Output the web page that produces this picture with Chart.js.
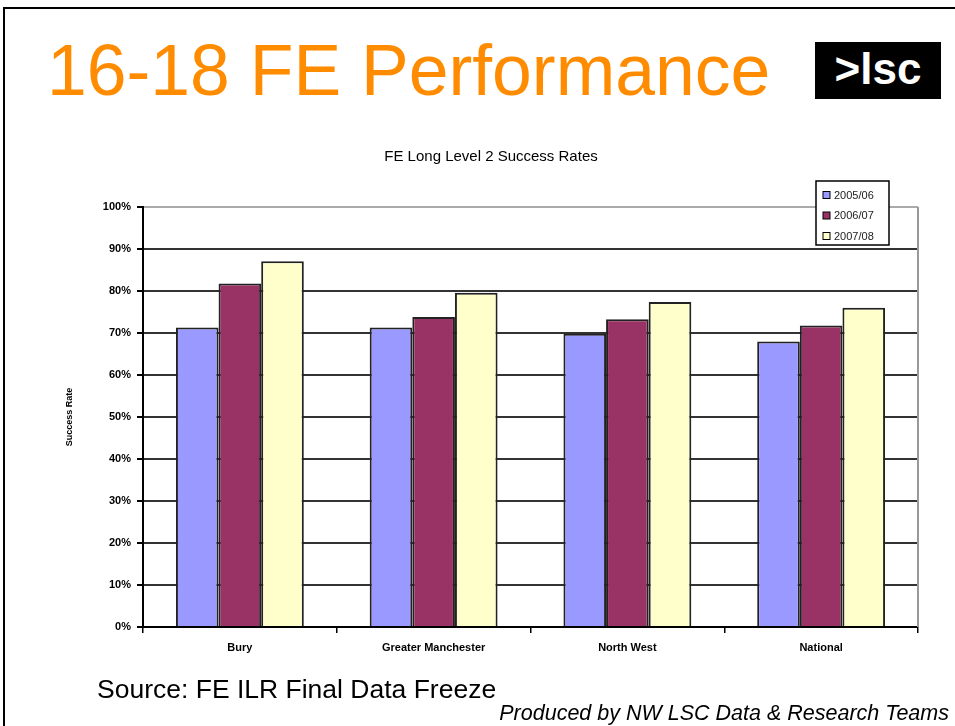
<!DOCTYPE html>
<html lang="en">
<head>
  <meta charset="UTF-8">
  <title>16-18 FE Performance</title>
  <script src="https://cdn.jsdelivr.net/npm/chart.js"></script>
  <style>
    body { margin: 0; background: #fff; font-family: Arial, "Liberation Sans", sans-serif; }
    .page { position: relative; width: 955px; height: 726px; overflow: hidden; }
    .frame { position: absolute; left: 3px; top: 7px; width: 960px; height: 730px;
             border-top: 2px solid #000; border-left: 2px solid #000; }
    .heading { position: absolute; left: 47px; top: 29px; font-size: 71.5px; color: #ff8c00;
               line-height: 82px; white-space: nowrap; }
    .logo { position: absolute; left: 815px; top: 42px; width: 126px; height: 57px; background: #000;
            color: #fff; font-size: 44px; font-weight: bold; text-align: center; line-height: 54px; }
    .source { position: absolute; left: 97px; top: 674px; font-size: 26.5px; color: #000; white-space: nowrap; }
    .produced { position: absolute; right: 6px; top: 701px; font-size: 21.5px; font-style: italic;
                color: #000; white-space: nowrap; }
    canvas { position: absolute; left: 0; top: 0; }
  </style>
</head>
<body>
  <div class="page">
    <div class="frame"></div>
    <div class="heading">16-18 FE Performance</div>
    <div class="logo">&gt;lsc</div>
    <canvas id="feChart" width="955" height="726"></canvas>
    <div class="source">Source: FE ILR Final Data Freeze</div>
    <div class="produced">Produced by NW LSC Data &amp; Research Teams</div>
  </div>

<script>
  // values (percent)
  const categories = ['Bury', 'Greater Manchester', 'North West', 'National'];
  const seriesNames = ['2005/06', '2006/07', '2007/08'];
  const rates0506 = [71.3, 71.3, 69.8, 68.0];
  const rates0607 = [81.8, 73.8, 73.3, 71.8];
  const rates0708 = [87.1, 79.6, 77.4, 76.0];
  const barColors = ['#9999ff', '#993366', '#ffffcc'];

  // small boxed legend + grey plot border, like the excel chart
  const boxLegend = {
    id: 'boxLegend',
    afterDraw(chart) {
      const ctx = chart.ctx;
      const a = chart.chartArea;
      ctx.save();
      ctx.strokeStyle = '#999';
      ctx.lineWidth = 2;
      ctx.beginPath();
      ctx.moveTo(a.right, a.top);
      ctx.lineTo(a.right, a.bottom);
      ctx.stroke();

      const x = 816, y = 181, w = 73, h = 64;
      ctx.fillStyle = '#fff';
      ctx.fillRect(x, y, w, h);
      ctx.strokeStyle = '#000';
      ctx.lineWidth = 1.5;
      ctx.strokeRect(x, y, w, h);
      ctx.font = '11px Arial, "Liberation Sans", sans-serif';
      ctx.textBaseline = 'middle';
      chart.data.datasets.forEach(function (ds, i) {
        const cy = y + 14 + i * 20.5;
        ctx.fillStyle = ds.backgroundColor;
        ctx.fillRect(x + 7, cy - 3.5, 7, 7);
        ctx.lineWidth = 1;
        ctx.strokeStyle = '#000';
        ctx.strokeRect(x + 7, cy - 3.5, 7, 7);
        ctx.fillStyle = '#222';
        ctx.fillText(ds.label, x + 18, cy + 0.5);
      });
      ctx.restore();
    }
  };

  const dataSets = [rates0506, rates0607, rates0708].map(function (vals, i) {
    return {
      label: seriesNames[i],
      data: vals,
      backgroundColor: barColors[i],
      borderColor: '#222',
      borderWidth: 2,
      categoryPercentage: 0.66,
      barPercentage: 1.0
    };
  });

  new Chart(document.getElementById('feChart'), {
    type: 'bar',
    data: { labels: categories, datasets: dataSets },
    plugins: [boxLegend],
    options: {
      responsive: false,
      animation: false,
      layout: { padding: { left: 64, right: 37, top: 0, bottom: 0 } },
      plugins: {
        legend: { display: false },
        tooltip: { enabled: false },
        title: {
          display: true,
          text: 'FE Long Level 2 Success Rates',
          color: '#000',
          font: { family: 'Arial, "Liberation Sans", sans-serif', size: 15, weight: 'normal', lineHeight: 1.2 },
          padding: { top: 148, bottom: 41 }
        }
      },
      scales: {
        x: {
          afterFit: function (s) { s.height = 99; },
          grid: { display: true, drawOnChartArea: false, drawTicks: true, tickLength: 6, color: '#000', lineWidth: 1.5 },
          border: { display: true, color: '#000', width: 2 },
          ticks: {
            color: '#000',
            padding: 8,
            font: { family: 'Arial, "Liberation Sans", sans-serif', size: 11, weight: 'bold' }
          }
        },
        y: {
          min: 0,
          max: 100,
          afterFit: function (s) { s.width = 143 - 64; },
          title: {
            display: true,
            text: 'Success Rate',
            color: '#000',
            padding: { top: 0, bottom: 0 },
            font: { family: 'Arial, "Liberation Sans", sans-serif', size: 9, weight: 'bold' }
          },
          grid: {
            drawTicks: true,
            tickLength: 6,
            lineWidth: 2,
            color: function (c) { return c.tick && c.tick.value === 100 ? '#aaa' : '#333'; },
            tickColor: '#000'
          },
          border: { display: true, color: '#000', width: 2 },
          ticks: {
            stepSize: 10,
            padding: 6,
            color: '#000',
            font: { family: 'Arial, "Liberation Sans", sans-serif', size: 11, weight: 'bold' },
            callback: function (v) { return v + '%'; }
          }
        }
      }
    }
  });
</script>
</body>
</html>
